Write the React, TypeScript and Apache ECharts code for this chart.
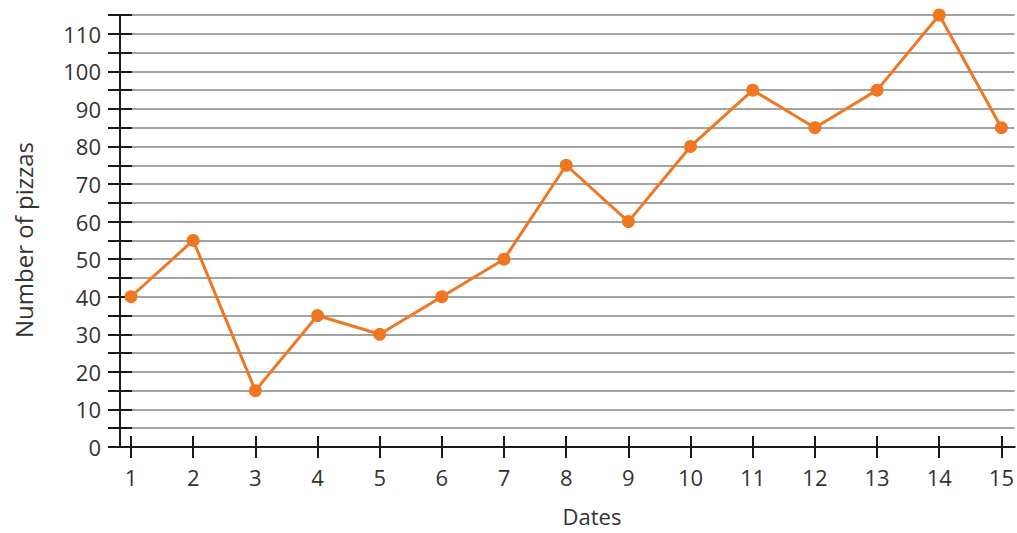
import React, { useEffect, useRef } from "react";
import * as echarts from "echarts";

const dates = [1, 2, 3, 4, 5, 6, 7, 8, 9, 10, 11, 12, 13, 14, 15];
const pizzas = [40, 55, 15, 35, 30, 40, 50, 75, 60, 80, 95, 85, 95, 115, 85];
const yTitle = "Number of pizzas";
const xTitle = "Dates";

const FONT = "'Open Sans', 'Noto Sans', sans-serif";
const TEXT = "#333333";

export default function App() {
  const ref = useRef<HTMLDivElement>(null);
  useEffect(() => {
    if (!ref.current) return;
    const chart = echarts.init(ref.current, null, { renderer: "svg" });
    const axisLine = { show: true, lineStyle: { color: "#1a1a1a", width: 2 } };
    const xCommon = {
      type: "value" as const,
      position: "bottom" as const,
      min: 0.823,
      max: 15.21,
      axisLine,
      splitLine: { show: false },
    };
    const yCommon = {
      type: "value" as const,
      position: "left" as const,
      min: 0,
      max: 115,
      interval: 5,
      axisLine,
    };
    chart.setOption({
      animation: false,
      backgroundColor: "#ffffff",
      grid: { left: 120, right: 0, top: 15, bottom: 86, containLabel: false },
      xAxis: [
        {
          ...xCommon,
          axisTick: {
            show: true,
            length: 11,
            customValues: dates,
            lineStyle: { color: "#1a1a1a", width: 2 },
          },
          axisLabel: {
            show: true,
            customValues: dates,
            margin: 19,
            fontSize: 22,
            fontFamily: FONT,
            color: TEXT,
            formatter: (v: number) => String(Math.round(v)),
          },
        },
        {
          ...xCommon,
          axisTick: {
            show: true,
            inside: true,
            length: 11,
            customValues: dates,
            lineStyle: { color: "#1a1a1a", width: 2 },
          },
          axisLabel: { show: false },
        },
      ],
      yAxis: [
        {
          ...yCommon,
          axisTick: {
            show: true,
            length: 12,
            lineStyle: { color: "#1a1a1a", width: 2 },
          },
          axisLabel: {
            margin: 19,
            fontSize: 22,
            fontFamily: FONT,
            color: TEXT,
            formatter: (v: number) => (v % 10 === 0 ? String(v) : ""),
          },
          splitLine: { show: true, lineStyle: { color: "#a3a3a3", width: 2 } },
        },
        {
          ...yCommon,
          axisTick: {
            show: true,
            inside: true,
            length: 12,
            lineStyle: { color: "#1a1a1a", width: 2 },
          },
          axisLabel: { show: false },
          splitLine: { show: false },
        },
      ],
      graphic: [
        {
          type: "text",
          x: 23,
          y: 240,
          rotation: Math.PI / 2,
          style: {
            text: yTitle,
            fontSize: 24,
            fontFamily: FONT,
            fill: TEXT,
            align: "center",
            verticalAlign: "middle",
          },
        },
        {
          type: "text",
          x: 592,
          y: 516,
          style: {
            text: xTitle,
            fontSize: 22,
            fontFamily: FONT,
            fill: TEXT,
            align: "center",
            verticalAlign: "middle",
          },
        },
      ],
      series: [
        {
          type: "line",
          xAxisIndex: 0,
          yAxisIndex: 0,
          data: dates.map((d, i) => [d, pizzas[i]]),
          symbol: "circle",
          symbolSize: 13,
          itemStyle: { color: "#F07722" },
          lineStyle: { color: "#F07722", width: 3 },
          clip: false,
          z: 5,
        },
      ],
    });
    return () => chart.dispose();
  }, []);
  return (
    <div
      ref={ref}
      style={{ position: "fixed", left: 0, top: 0, width: 1017, height: 533 }}
    />
  );
}
